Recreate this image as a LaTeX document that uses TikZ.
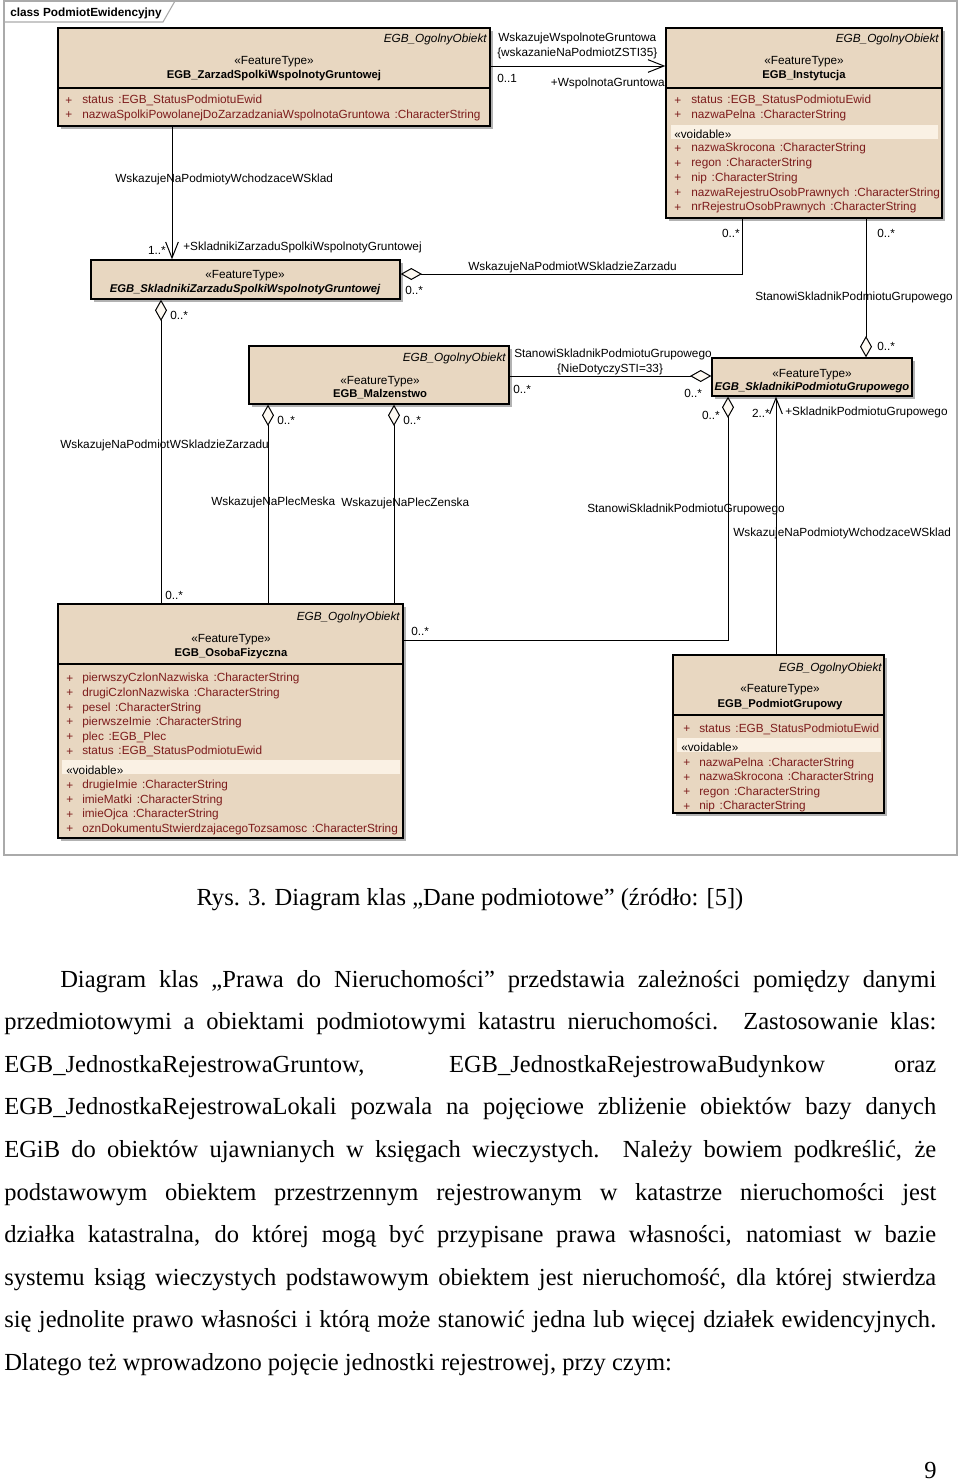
\documentclass[tikz,border=0pt]{standalone}
\usepackage{fontspec}
\usetikzlibrary{arrows.meta,shadows,fit}
\newfontfamily\dgfont{Liberation Sans}
\newfontfamily\txtfont{Liberation Serif}
\newcommand{\dgsize}{\fontsize{8.85}{10}\selectfont}
\newcommand{\dgboldsize}{\fontsize{8.45}{10}\selectfont}
\newcommand{\gap}{\hspace{0.4em}}

\definecolor{classfill}{RGB}{232,215,193}
\definecolor{voidfill}{RGB}{250,241,228}
\definecolor{attrred}{RGB}{125,28,28}
\definecolor{framegray}{RGB}{170,170,170}
\definecolor{diamondfill}{RGB}{253,249,242}

\tikzset{
  umlclass/.style={draw=black, line width=1pt, fill=classfill, inner sep=0pt,
    drop shadow={shadow xshift=2.5pt, shadow yshift=-2.5pt, fill=black!30, opacity=1}},
  lbl/.style={font=\dgfont\dgsize, inner sep=0pt, anchor=west, yshift=-1.2pt},
  attr/.style={lbl, text=attrred},
  stereo/.style={lbl, anchor=center},
  parent/.style={lbl, anchor=east, font=\dgfont\dgsize\itshape},
  cname/.style={lbl, anchor=center, font=\dgfont\dgboldsize\bfseries},
  aname/.style={lbl, anchor=center, font=\dgfont\dgboldsize\bfseries\itshape},
  assoc/.style={line width=0.75pt, -{Straight Barb[length=12pt,width=9.5pt]}},
  aggr/.style={line width=0.75pt, {Diamond[fill=diamondfill,length=16pt,width=9pt]}-},
  txt/.style={font=\txtfont\fontsize{18.4}{22}\selectfont, inner sep=0pt, anchor=base west}
}

\begin{document}
\begin{tikzpicture}[x=0.75pt,y=-0.75pt]
\useasboundingbox (0,0) rectangle (960,1481);

% Frame of the diagram
\draw[framegray, line width=0.8pt] (4,1) rectangle (957,855);
\draw[framegray, line width=0.8pt] (4,22) -- (163,22) -- (175,1);
\node[lbl, font=\dgfont\dgsize\bfseries] (title) at (10,12) {class PodmiotEwidencyjny};

% Class boxes
\node[umlclass, fit={(58,28) (490,126)}] (zarzad) {};
\node[umlclass, fit={(666,28) (942,218)}] (instyt) {};
\node[umlclass, fit={(91,260) (400,299)}] (skladZ) {};
\node[umlclass, fit={(249,346) (509,404)}] (malz) {};
\node[umlclass, fit={(712,358) (912,396)}] (skladPG) {};
\node[umlclass, fit={(58,604) (403,838)}] (osoba) {};
\node[umlclass, fit={(673,655) (884,813)}] (podmGr) {};

% EGB_ZarzadSpolkiWspolnotyGruntowej
\node[parent] (zarzadP) at (487,38) {EGB\_OgolnyObiekt};
\node[stereo] (zarzadS) at (274,60) {«FeatureType»};
\node[cname] (zarzadN) at (274,74) {EGB\_ZarzadSpolkiWspolnotyGruntowej};
\draw[line width=1pt] (zarzad.west |- 0,88) -- (zarzad.east |- 0,88);
\foreach \t [count=\i from 0] in {status\gap:EGB\_StatusPodmiotuEwid,
  nazwaSpolkiPowolanejDoZarzadzaniaWspolnotaGruntowa\gap:CharacterString}{
  \node[attr] (zp\i) at (65,99+14.7*\i) {+};
  \node[attr] (za\i) at (82,99+14.7*\i) {\t};
}

% EGB_Instytucja
\node[parent] (instytP) at (939,38) {EGB\_OgolnyObiekt};
\node[stereo] (instytS) at (804,60) {«FeatureType»};
\node[cname] (instytN) at (804,74) {EGB\_Instytucja};
\draw[line width=1pt] (instyt.west |- 0,88) -- (instyt.east |- 0,88);
\foreach \t [count=\i from 0] in {status\gap:EGB\_StatusPodmiotuEwid,
  nazwaPelna\gap:CharacterString}{
  \node[attr] (ip\i) at (674,99+14.7*\i) {+};
  \node[attr] (ia\i) at (691,99+14.7*\i) {\t};
}
\fill[voidfill] (671,125) rectangle (938,139);
\node[lbl] (instytV) at (674,132.5) {«voidable»};
\foreach \t [count=\i from 0] in {nazwaSkrocona\gap:CharacterString,
  regon\gap:CharacterString, nip\gap:CharacterString,
  nazwaRejestruOsobPrawnych\gap:CharacterString,
  nrRejestruOsobPrawnych\gap:CharacterString}{
  \node[attr] (iq\i) at (674,147.3+14.75*\i) {+};
  \node[attr] (ib\i) at (691,147.3+14.75*\i) {\t};
}

% EGB_SkladnikiZarzaduSpolkiWspolnotyGruntowej
\node[stereo] (skladZS) at (245,274) {«FeatureType»};
\node[aname] (skladZN) at (245,288) {EGB\_SkladnikiZarzaduSpolkiWspolnotyGruntowej};

% EGB_Malzenstwo
\node[parent] (malzP) at (506,357) {EGB\_OgolnyObiekt};
\node[stereo] (malzS) at (380,380) {«FeatureType»};
\node[cname] (malzN) at (380,393) {EGB\_Malzenstwo};

% EGB_SkladnikiPodmiotuGrupowego
\node[stereo] (skladPGS) at (812,372.7) {«FeatureType»};
\node[aname] (skladPGN) at (812,385.7) {EGB\_SkladnikiPodmiotuGrupowego};

% EGB_OsobaFizyczna
\node[parent] (osobaP) at (400,616) {EGB\_OgolnyObiekt};
\node[stereo] (osobaS) at (231,637.7) {«FeatureType»};
\node[cname] (osobaN) at (231,651.7) {EGB\_OsobaFizyczna};
\draw[line width=1pt] (osoba.west |- 0,664) -- (osoba.east |- 0,664);
\foreach \t [count=\i from 0] in {pierwszyCzlonNazwiska\gap:CharacterString,
  drugiCzlonNazwiska\gap:CharacterString, pesel\gap:CharacterString,
  pierwszeImie\gap:CharacterString, plec\gap:EGB\_Plec,
  status\gap:EGB\_StatusPodmiotuEwid}{
  \node[attr] (op\i) at (66,677.3+14.55*\i) {+};
  \node[attr] (oa\i) at (82,677.3+14.55*\i) {\t};
}
\fill[voidfill] (62,760) rectangle (400,774);
\node[lbl] (osobaV) at (66,768.5) {«voidable»};
\foreach \t [count=\i from 0] in {drugieImie\gap:CharacterString,
  imieMatki\gap:CharacterString, imieOjca\gap:CharacterString,
  oznDokumentuStwierdzajacegoTozsamosc\gap:CharacterString}{
  \node[attr] (oq\i) at (66,784+14.55*\i) {+};
  \node[attr] (ob\i) at (82,784+14.55*\i) {\t};
}

% EGB_PodmiotGrupowy
\node[parent] (podmGrP) at (882,666.7) {EGB\_OgolnyObiekt};
\node[stereo] (podmGrS) at (780,688.3) {«FeatureType»};
\node[cname] (podmGrN) at (780,702.7) {EGB\_PodmiotGrupowy};
\draw[line width=1pt] (podmGr.west |- 0,715) -- (podmGr.east |- 0,715);
\node[attr] (gp0) at (683,727.3) {+};
\node[attr] (ga0) at (699,727.3) {status\gap:EGB\_StatusPodmiotuEwid};
\fill[voidfill] (677,738) rectangle (881,752);
\node[lbl] (podmGrV) at (681,746) {«voidable»};
\foreach \t [count=\i from 0] in {nazwaPelna\gap:CharacterString,
  nazwaSkrocona\gap:CharacterString, regon\gap:CharacterString,
  nip\gap:CharacterString}{
  \node[attr] (gq\i) at (683,761.7+14.45*\i) {+};
  \node[attr] (gb\i) at (699,761.7+14.45*\i) {\t};
}

% Connectors
\draw[assoc] (zarzad.east |- 0,66) -- (instyt.west |- 0,66);
\node[lbl] (c1a) at (498,37) {WskazujeWspolnoteGruntowa};
\node[lbl] (c1b) at (497,52) {\{wskazanieNaPodmiotZSTI35\}};
\node[lbl] (c1c) at (497,77) {0..1};
\node[lbl, anchor=east] (c1d) at (665,82) {+WspolnotaGruntowa};

\draw[assoc] (172,0 |- zarzad.south) -- (172,0 |- skladZ.north);
\node[lbl] (c2a) at (115,178) {WskazujeNaPodmiotyWchodzaceWSklad};
\node[lbl, anchor=east] (c2b) at (166,249) {1..*};
\node[lbl] (c2c) at (183,246) {+SkladnikiZarzaduSpolkiWspolnotyGruntowej};

\draw[aggr] (skladZ.east |- 0,274) -- (742,274) -- (742,0 |- instyt.south);
\node[lbl] (c3a) at (468,266) {WskazujeNaPodmiotWSkladzieZarzadu};
\node[lbl] (c3b) at (405,289) {0..*};
\node[lbl, anchor=east] (c3c) at (740,232) {0..*};

\draw[aggr] (161,0 |- skladZ.south) -- (161,0 |- osoba.north);
\node[lbl] (c4a) at (170,314) {0..*};
\node[lbl] (c4b) at (60,444) {WskazujeNaPodmiotWSkladzieZarzadu};
\node[lbl] (c4c) at (165,594) {0..*};

\draw[aggr] (268,0 |- malz.south) -- (268,0 |- osoba.north);
\node[lbl] (c5a) at (277,419) {0..*};
\node[lbl] (c5b) at (211,501) {WskazujeNaPlecMeska};

\draw[aggr] (394,0 |- malz.south) -- (394,0 |- osoba.north);
\node[lbl] (c6a) at (403,419) {0..*};
\node[lbl] (c6b) at (341,502) {WskazujeNaPlecZenska};

\draw[aggr] (skladPG.west |- 0,376) -- (malz.east |- 0,376);
\node[lbl] (c7a) at (514,353) {StanowiSkladnikPodmiotuGrupowego};
\node[stereo] (c7b) at (610,368) {\{NieDotyczySTI=33\}};
\node[lbl] (c7c) at (513,388) {0..*};
\node[lbl] (c7d) at (684,392) {0..*};

\draw[aggr] (866,0 |- skladPG.north) -- (866,0 |- instyt.south);
\node[lbl] (c8a) at (877,232) {0..*};
\node[lbl] (c8b) at (755,296) {StanowiSkladnikPodmiotuGrupowego};
\node[lbl] (c8c) at (877,345) {0..*};

\draw[aggr] (728,0 |- skladPG.south) -- (728,640) -- (osoba.east |- 0,640);
\node[lbl, anchor=east] (c9a) at (720,414) {0..*};
\node[lbl] (c9b) at (587,508) {StanowiSkladnikPodmiotuGrupowego};
\node[lbl] (c9c) at (411,630) {0..*};

\draw[assoc] (776,0 |- podmGr.north) -- (776,0 |- skladPG.south);
\node[lbl, anchor=east] (c10a) at (770,412) {2..*};
\node[lbl] (c10b) at (785,411) {+SkladnikPodmiotuGrupowego};
\node[lbl] (c10c) at (733,532) {WskazujeNaPodmiotyWchodzaceWSklad};

% Caption and text below the diagram
\node[txt, anchor=base] (caption) at (470,905) {Rys. 3. Diagram klas „Dane podmiotowe” (źródło: [5])};
\node[txt] (p1) at (4,987) {\hbox to 699pt{\hspace*{42pt}Diagram klas „Prawa do Nieruchomości” przedstawia zależności pomiędzy danymi}};
\node[txt] (p2) at (4,1029.6) {\hbox to 699pt{przedmiotowymi a obiektami podmiotowymi katastru nieruchomości. Zastosowanie klas:}};
\node[txt] (p3) at (4,1072.2) {\hbox to 699pt{EGB\_JednostkaRejestrowaGruntow, EGB\_JednostkaRejestrowaBudynkow oraz}};
\node[txt] (p4) at (4,1114.8) {\hbox to 699pt{EGB\_JednostkaRejestrowaLokali pozwala na pojęciowe zbliżenie obiektów bazy danych}};
\node[txt] (p5) at (4,1157.4) {\hbox to 699pt{EGiB do obiektów ujawnianych w księgach wieczystych. Należy bowiem podkreślić, że}};
\node[txt] (p6) at (4,1200) {\hbox to 699pt{podstawowym obiektem przestrzennym rejestrowanym w katastrze nieruchomości jest}};
\node[txt] (p7) at (4,1242.6) {\hbox to 699pt{działka katastralna, do której mogą być przypisane prawa własności, natomiast w bazie}};
\node[txt] (p8) at (4,1285.2) {\hbox to 699pt{systemu ksiąg wieczystych podstawowym obiektem jest nieruchomość, dla której stwierdza}};
\node[txt] (p9) at (4,1327.8) {\hbox to 699pt{się jednolite prawo własności i którą może stanowić jedna lub więcej działek ewidencyjnych.}};
\node[txt] (p10) at (4,1370.4) {Dlatego też wprowadzono pojęcie jednostki rejestrowej, przy czym:};
\node[txt, anchor=base east] (pagenum) at (937,1478) {9};

\end{tikzpicture}
\end{document}
